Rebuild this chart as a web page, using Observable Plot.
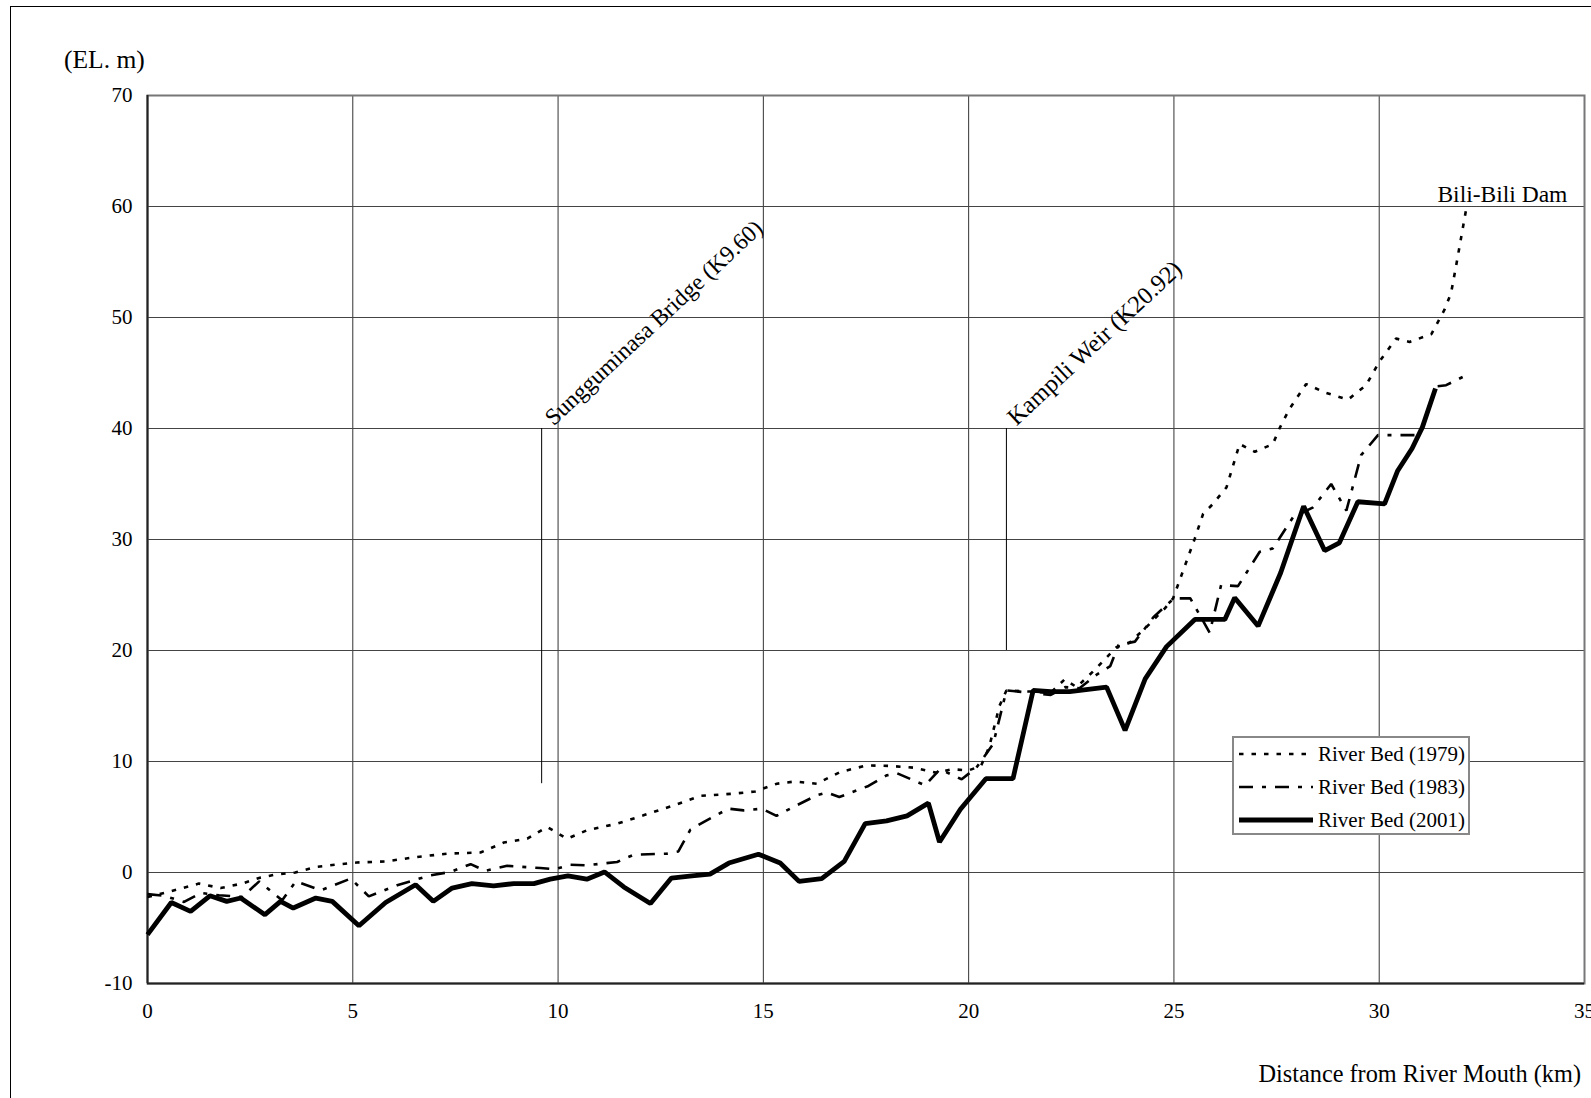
<!DOCTYPE html>
<html><head><meta charset="utf-8">
<script src="https://cdn.jsdelivr.net/npm/d3@7"></script>
<script src="https://cdn.jsdelivr.net/npm/@observablehq/plot@0.6"></script>
<style>
body{margin:0;background:#fff;font-family:"Liberation Serif","Times New Roman",serif;}
#wrap{position:relative;width:1591px;height:1098px;overflow:hidden;background:#fff;}
#border{position:absolute;left:10px;top:6px;width:1700px;height:1200px;border:1.5px solid #000;}
#chart{position:absolute;left:0;top:0;}
.lbl{position:absolute;color:#000;white-space:nowrap;line-height:1;}
#legend{position:absolute;left:1232px;top:736px;}
</style></head><body>
<div id="wrap">
  <div id="border"></div>
  <div id="chart"></div>
  <div class="lbl" style="left:64px;top:47px;font-size:25.5px;">(EL. m)</div>
  <div class="lbl" style="right:10px;top:1062px;font-size:24.3px;">Distance from River Mouth (km)</div>
  <div id="legend"></div>
</div>
<script>
// ---- data (km from river mouth, elevation m) ----
const km1979 = [0,0.45,1.25,1.78,2.3,2.76,3.1,3.6,4.1,4.7,5.1,5.8,6.57,7.3,8.11,8.68,9.25,9.73,10.22,10.7,11.44,12.08,12.9,13.46,14.27,14.8,15.33,15.77,16.3,16.87,17.52,18.08,18.65,19.2,19.6,20.0,20.3,20.5,20.75,20.92,21.5,22.0,22.34,22.63,23.11,23.6,23.92,24.41,24.78,24.98,25.51,25.71,25.95,26.28,26.6,26.97,27.41,27.57,27.82,28.22,28.71,29.24,29.68,30.0,30.41,30.74,31.27,31.59,31.75,31.87,32.0,32.12];
const el1979 = [-2.2,-1.8,-1.0,-1.4,-1.0,-0.45,-0.2,0,0.5,0.75,0.9,1.0,1.4,1.7,1.8,2.7,3.05,4.1,3.05,3.8,4.4,5.15,6.15,6.9,7.1,7.3,8.0,8.2,8.0,9.05,9.65,9.6,9.45,9.0,9.3,9.2,9.6,11.3,15.0,16.4,16.3,16.2,17.4,16.7,18.4,20.3,20.7,22.4,23.8,24.7,30.1,32.3,33.2,34.7,38.6,37.9,38.6,40.0,41.8,44.0,43.2,42.6,43.9,46.0,48.1,47.8,48.5,50.7,52.2,54.6,57.3,59.8];

const km1983 = [0,0.4,0.89,1.3,1.74,2.31,2.72,3.28,3.61,4.22,4.95,5.39,6.08,6.89,7.38,7.87,8.23,8.76,9.57,9.93,10.3,10.7,11.44,11.84,12.65,12.93,13.22,13.62,14.15,14.52,14.96,15.32,15.73,16.3,16.55,16.85,17.56,18.0,18.25,18.94,19.3,19.83,20.19,20.6,20.92,21.5,22.0,22.35,22.7,23.11,23.45,23.65,24.05,24.5,25.0,25.4,25.87,26.15,26.56,27.09,27.41,27.9,28.39,28.83,29.2,29.56,29.97,30.98,31.39,31.63,32.12];
const el1983 = [-1.95,-2.1,-2.65,-1.85,-2.05,-2.2,-0.8,-2.5,-0.8,-1.6,-0.55,-2.15,-1.15,-0.25,0.05,0.75,0.15,0.6,0.4,0.3,0.7,0.65,0.95,1.6,1.7,1.9,3.85,4.7,5.75,5.6,5.75,5.1,5.9,6.95,7.2,6.8,7.8,8.75,8.95,7.85,9.3,8.4,9.45,11.6,16.4,16.2,16.0,16.7,16.6,17.8,18.6,20.5,20.8,23.0,24.7,24.7,21.6,25.9,25.8,28.9,29.2,32.0,32.9,35.0,32.6,37.6,39.4,39.4,43.8,43.9,44.8];

const km2001 = [0,0.58,1.05,1.52,1.93,2.27,2.86,3.24,3.55,4.1,4.5,5.15,5.8,6.53,6.96,7.42,7.9,8.43,8.92,9.41,9.81,10.24,10.7,11.13,11.6,12.25,12.76,13.26,13.7,14.16,14.88,15.41,15.87,16.42,16.97,17.48,18.0,18.5,19.02,19.29,19.8,20.42,21.08,21.57,22.0,22.46,23.36,23.81,24.3,24.82,25.51,26.24,26.48,27.05,27.6,28.16,28.67,29.03,29.48,30.13,30.45,30.8,31.05,31.37];
const el2001 = [-5.6,-2.7,-3.5,-2.1,-2.6,-2.3,-3.8,-2.6,-3.2,-2.3,-2.6,-4.8,-2.7,-1.1,-2.6,-1.4,-1.0,-1.2,-1.0,-1.0,-0.6,-0.3,-0.6,0.05,-1.3,-2.8,-0.5,-0.3,-0.15,0.85,1.65,0.85,-0.8,-0.55,1.0,4.4,4.65,5.1,6.25,2.75,5.7,8.45,8.45,16.4,16.3,16.3,16.7,12.8,17.45,20.35,22.8,22.8,24.75,22.2,27.0,33.0,29.0,29.7,33.4,33.2,36.2,38.2,40.1,43.6];

const seriesNames = ["River Bed (1979)", "River Bed (1983)", "River Bed (2001)"];

const xTicks = [0,5,10,15,20,25,30,35];
const yTicks = [-10,0,10,20,30,40,50,60,70];

const structNames = ["Sungguminasa Bridge (K9.60)", "Kampili Weir (K20.92)"];
const structKm = [9.6, 20.92];
const structBase = [8, 20];
const structTop = [40, 40];

const damLabel = "Bili-Bili Dam";
const damKm = 33.0;
const damEl = 60;

// ---- build ----
const styles = [
  {dash:"4.5,8", width:2.6},
  {dash:"14,9,4,9", width:2.6},
  {dash:null, width:4.8}
];
const kms = [km1979, km1983, km2001];
const els = [el1979, el1983, el2001];
const seriesData = kms.map((k, s) => k.map((v, i) => ({series: seriesNames[s], km: v, el: els[s][i]})));
const structs = structNames.map((n, i) => ({name: n, km: structKm[i], y1: structBase[i], y2: structTop[i]}));
const labelDx = [12, 10];
const labelSize = [23.5, 24.5];

const chart = Plot.plot({
  width: 1591, height: 1098,
  marginLeft: 147, marginRight: 7, marginTop: 95, marginBottom: 115,
  style: {fontFamily: "'Liberation Serif', 'Times New Roman', serif", fontSize: "21px", background: "transparent", color: "#000", overflow: "hidden"},
  x: {domain: [0, 35], ticks: xTicks, tickSize: 0, tickPadding: 20, tickFormat: d => String(d), label: null},
  y: {domain: [-10, 70], ticks: yTicks, tickSize: 0, tickPadding: 15, tickFormat: d => String(d), label: null},
  marks: [
    Plot.gridX(xTicks, {stroke: "#333", strokeOpacity: 1, strokeWidth: 1}),
    Plot.gridY(yTicks, {stroke: "#444", strokeOpacity: 1, strokeWidth: 1}),
    Plot.frame({stroke: "#777", strokeWidth: 2}),
    Plot.ruleX([0], {stroke: "#222", strokeWidth: 2}),
    Plot.ruleY([-10], {stroke: "#222", strokeWidth: 2}),
    Plot.ruleX(structs, {x: "km", y1: "y1", y2: "y2", stroke: "#000", strokeWidth: 1}),
    ...structs.map((s, i) => Plot.text([s], {x: "km", y: "y2", text: "name", rotate: -43, textAnchor: "start", lineAnchor: "bottom", dx: labelDx[i], dy: -2, fontSize: labelSize[i], fill: "#000"})),
    Plot.text([damLabel], {x: () => damKm, y: () => damEl, text: d => d, textAnchor: "middle", lineAnchor: "bottom", dy: -5, fontSize: 23.5, fill: "#000"}),
    ...seriesData.map((d, s) => Plot.line(d, {x: "km", y: "el", stroke: "#000", strokeWidth: styles[s].width, strokeDasharray: styles[s].dash, strokeLinejoin: "miter", strokeLinecap: "butt"}))
  ]
});
document.getElementById("chart").appendChild(chart);

// ---- legend ----
const lg = d3.select("#legend").append("svg").attr("width", 238).attr("height", 99);
lg.append("rect").attr("x", 1).attr("y", 1).attr("width", 236).attr("height", 97).attr("fill", "#fff").attr("stroke", "#888").attr("stroke-width", 2);
seriesNames.forEach((n, i) => {
  const cy = 18 + i * 33;
  lg.append("line").attr("x1", 7).attr("x2", 81).attr("y1", cy).attr("y2", cy)
    .attr("stroke", "#000").attr("stroke-width", styles[i].width)
    .attr("stroke-dasharray", styles[i].dash);
  lg.append("text").attr("x", 86).attr("y", cy).attr("dy", "0.35em")
    .attr("font-family", "'Liberation Serif', serif").attr("font-size", 21).text(n);
});
</script>
</body></html>
